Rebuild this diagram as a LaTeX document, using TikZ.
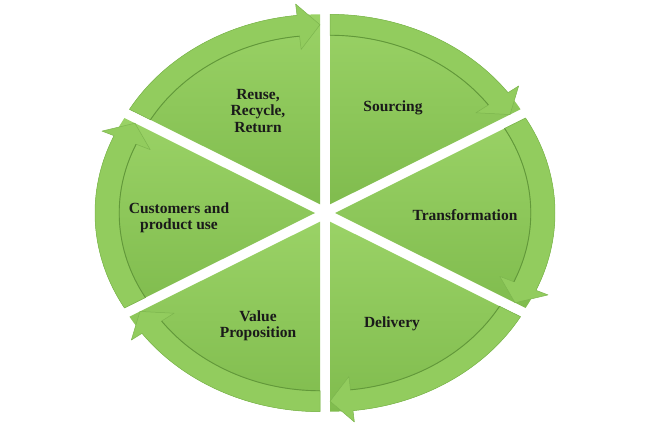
\documentclass[tikz,border=0pt]{standalone}
\usepackage{fontspec}
\setmainfont{Liberation Serif}
\definecolor{sliceLight}{RGB}{154,210,102}
\definecolor{sliceDark}{RGB}{128,188,78}
\definecolor{bandGreen}{RGB}{146,204,94}
\definecolor{edgeGreen}{RGB}{98,152,58}
\definecolor{inkBlack}{RGB}{26,26,26}
\tikzset{%
  % Specifications for style of slices and texts:
       sector/.style = {top color=sliceLight, bottom color=sliceDark},
    ringarrow/.style = {fill=bandGreen, draw=edgeGreen!45!bandGreen,
                        line width=0.5pt, line join=round},
     ringedge/.style = {draw=edgeGreen, line width=0.9pt},
        stage/.style = {text=inkBlack, align=center,
                        font=\bfseries\fontsize{15.5}{16.5}\selectfont},
}

\begin{document}
\begin{tikzpicture}[x=1pt, y=1pt]
    \useasboundingbox (0,0) rectangle (648,432);
    \coordinate (centre) at (325,219);

    % six slices, each pushed out a little, with its arrow on the rim
    \foreach \a in {90,30,-30,-90,-150,-210}{
        \begin{scope}[shift={(centre)}, shift={(\a-30:10)}, xscale=220, yscale=190]
            \path[sector] (0,0) -- (\a:1) arc[start angle=\a, end angle=\a-60, radius=1] -- cycle;
            \path[ringarrow] (\a:1) arc[start angle=\a, end angle=\a-54, radius=1]
                -- (\a-54:1.06) -- (\a-60:0.945) -- (\a-54:0.82) -- (\a-54:0.89)
                arc[start angle=\a-54, end angle=\a, radius=0.89] -- cycle;
            \path[ringedge] (\a-54:0.89) arc[start angle=\a-54, end angle=\a, radius=0.89];
        \end{scope}
    }

    \node (reuse)          [stage] at (258,321) {Reuse,\\Recycle,\\Return};
    \node (sourcing)       [stage] at (393,324) {Sourcing};
    \node (transformation) [stage] at (465,217) {Transformation};
    \node (delivery)       [stage] at (392,108) {Delivery};
    \node (value)          [stage] at (258,106) {Value\\Proposition};
    \node (customers)      [stage] at (179,214) {Customers and\\product use};

\end{tikzpicture}
\end{document}
